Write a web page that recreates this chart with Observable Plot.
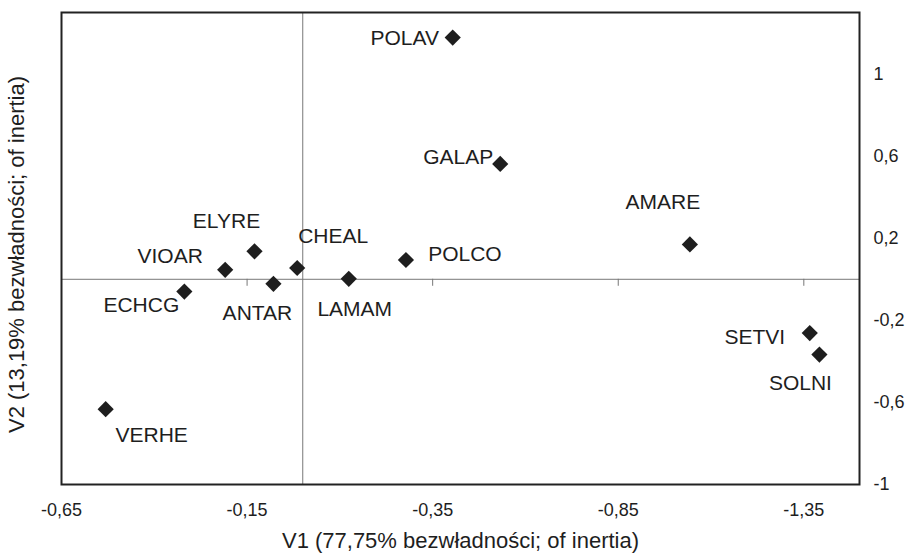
<!DOCTYPE html>
<html>
<head>
<meta charset="utf-8">
<script src="https://cdn.jsdelivr.net/npm/d3@7"></script>
<script src="https://cdn.jsdelivr.net/npm/@observablehq/plot@0.6"></script>
<style>
  html, body { margin: 0; padding: 0; background: #fff; }
  svg { display: block; }
</style>
</head>
<body>
<script>
// ---- data ----
const species = ["POLAV", "GALAP", "AMARE", "POLCO", "SETVI", "SOLNI", "ELYRE", "VIOAR", "CHEAL", "ANTAR", "LAMAM", "ECHCG", "VERHE"];
const v1 = [-0.404, -0.532, -1.043, -0.278, -1.366, -1.392, 0.130, 0.209, 0.015, 0.079, -0.124, 0.319, 0.531];
const v2 = [1.178, 0.562, 0.170, 0.094, -0.262, -0.367, 0.136, 0.046, 0.055, -0.022, 0.002, -0.060, -0.633];

const xTicks = [0.65, 0.15, -0.35, -0.85, -1.35];
const xTickLabels = ["-0,65", "-0,15", "-0,35", "-0,85", "-1,35"];
const yTicks = [1, 0.6, 0.2, -0.2, -0.6, -1];
const yTickLabels = ["1", "0,6", "0,2", "-0,2", "-0,6", "-1"];

const xTitle = "V1 (77,75% bezwładności; of inertia)";
const yTitle = "V2 (13,19% bezwładności; of inertia)";

// ---- label placement (layout only) ----
const labelDx = [-48, -42, -27, 59, -55, -19, -28, -55, 36, -16, 6, -43, 46];
const labelDy = [1, -7, -42, -6, 4, 29, -30, -14, -32, 29, 30, 14, 26];

const points = species.map((s, i) => ({name: s, x: v1[i], y: v2[i], dx: labelDx[i], dy: labelDy[i]}));

const ink = "#1e1e1e";
const font = "'Liberation Sans', Arial, Helvetica, sans-serif";

const chart = Plot.plot({
  width: 908,
  height: 558,
  marginLeft: 61,
  marginRight: 49,
  marginTop: 12,
  marginBottom: 74,
  style: {fontFamily: font, fontSize: "18px", color: ink, background: "#fff"},
  x: {
    domain: [0.65, -1.5],
    ticks: xTicks,
    tickFormat: d => xTickLabels[xTicks.indexOf(d)],
    tickSize: 0,
    tickPadding: 19,
    label: null
  },
  y: {
    domain: [-1, 1.3],
    axis: "right",
    ticks: yTicks,
    tickFormat: d => yTickLabels[yTicks.indexOf(d)],
    tickSize: 0,
    tickPadding: 14,
    label: null
  },
  marks: [
    Plot.ruleY([0], {stroke: "#777", strokeWidth: 1}),
    Plot.ruleX([0], {stroke: "#777", strokeWidth: 1}),
    Plot.ruleX(xTicks, {x: d => d, y1: 0, y2: 0, insetTop: 0, insetBottom: -7, stroke: "#777", strokeWidth: 1}),
    Plot.frame({stroke: "#222", strokeWidth: 2}),
    Plot.dot(points, {x: "x", y: "y", symbol: "diamond2", r: 7.3, fill: ink, stroke: "none"}),
    ...points.map(p => Plot.text([p], {x: "x", y: "y", text: "name", dx: p.dx, dy: p.dy, fontSize: 21, fill: ink, textAnchor: "middle", lineAnchor: "middle"})),
    Plot.text([xTitle], {frameAnchor: "bottom", dy: 56, fontSize: 22, fill: ink, textAnchor: "middle", lineAnchor: "middle"}),
    Plot.text([yTitle], {frameAnchor: "left", dx: -45, dy: 6, rotate: -90, fontSize: 22, fill: ink, textAnchor: "middle", lineAnchor: "middle"})
  ]
});
document.body.appendChild(chart);
</script>
</body>
</html>
